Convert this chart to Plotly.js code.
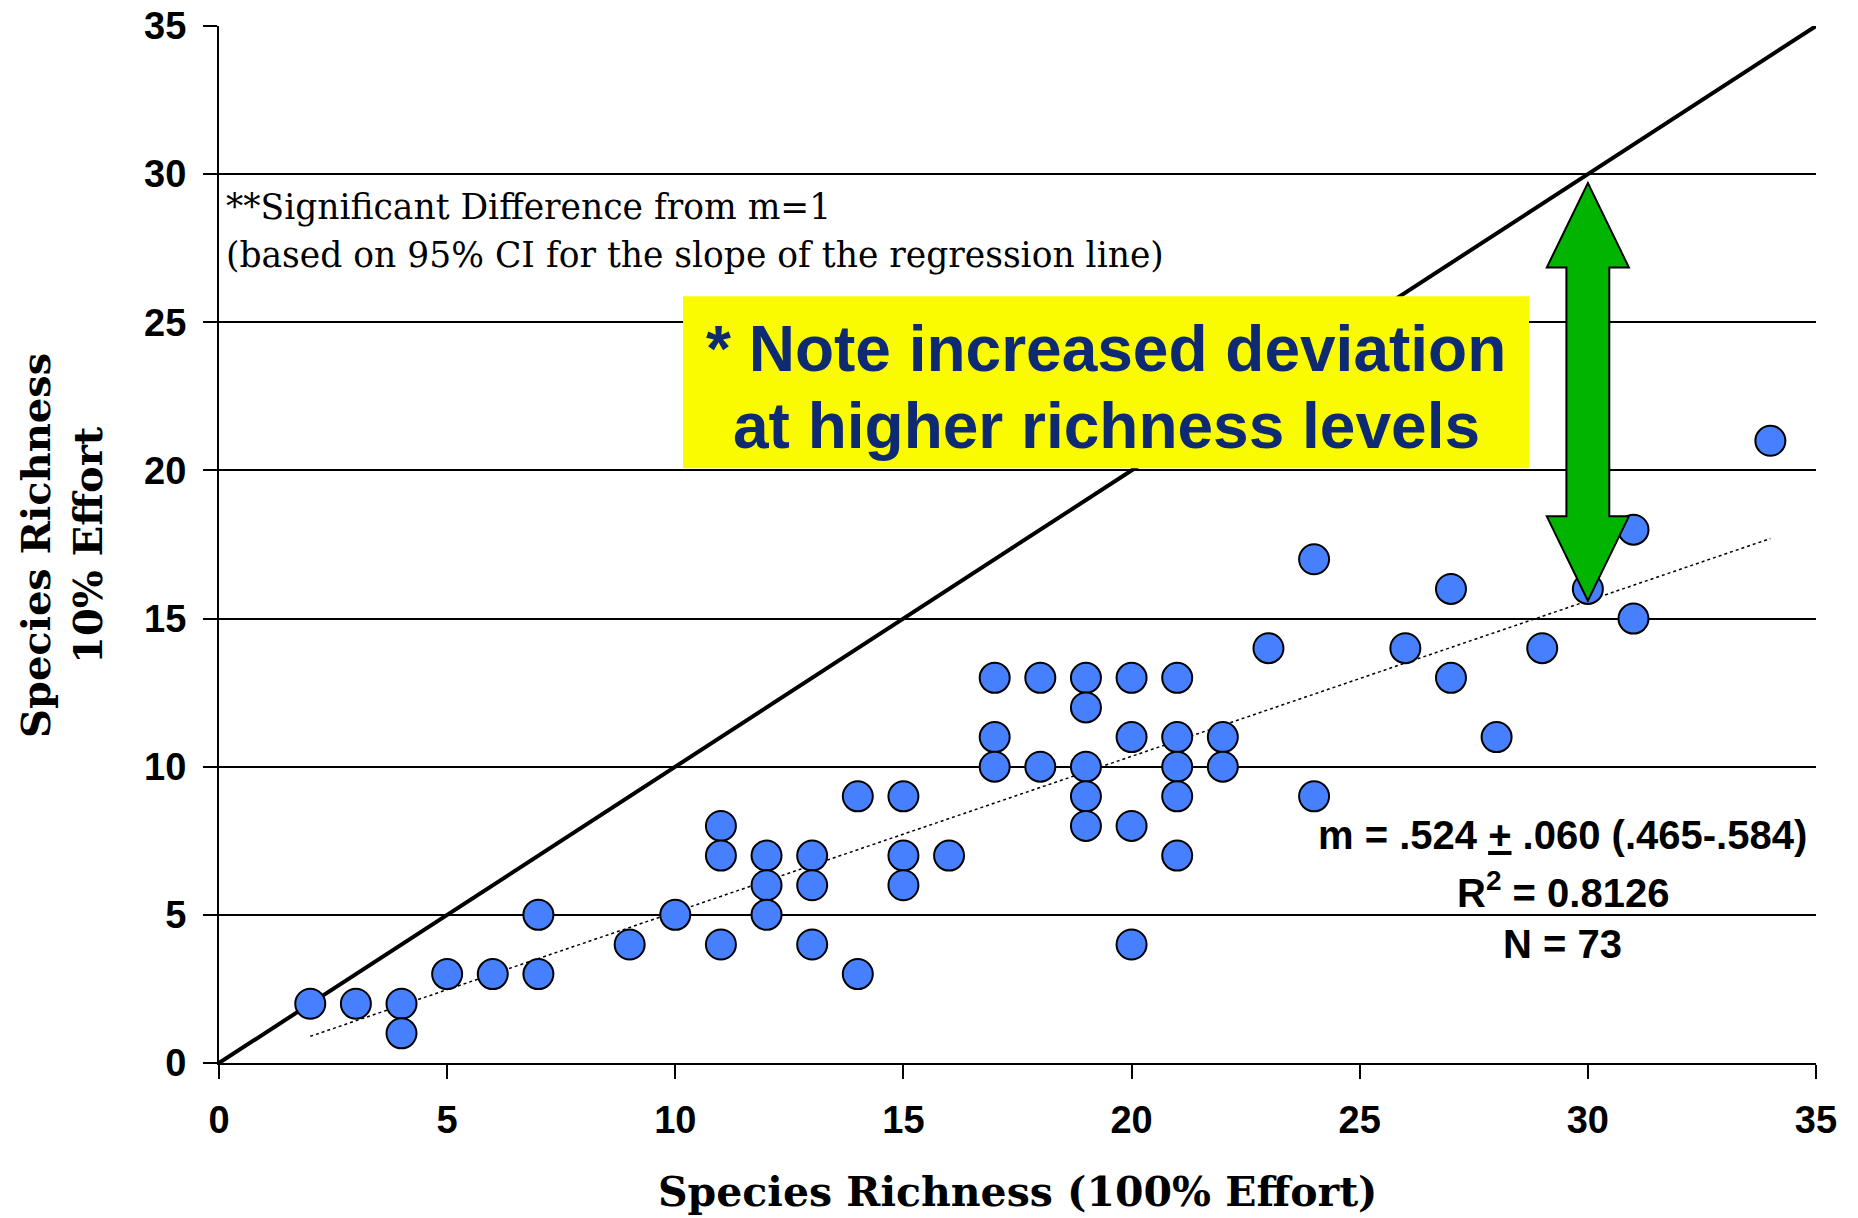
<!DOCTYPE html>
<html>
<head>
<meta charset="utf-8">
<script src="https://cdn.plot.ly/plotly-3.0.1.min.js"></script>
<style>
  html, body { margin: 0; padding: 0; background: #ffffff; }
  #chart { width: 1858px; height: 1218px; }
</style>
</head>
<body>
<div id="chart"></div>
<script>
// Species richness found with 100% sampling effort vs. 10% effort, one point per site
const richnessFull = [2, 3, 4, 4, 5, 6, 7, 7, 9, 10,
  11, 11, 11, 12, 12, 12, 13, 13, 13, 14,
  14, 15, 15, 15, 16, 17, 17, 17, 18, 18,
  19, 19, 19, 19, 19, 20, 20, 20, 20, 21,
  21, 21, 21, 21, 22, 22, 23, 24, 24, 26,
  27, 27, 28, 29, 30, 31, 31, 34];
const richnessTenth = [2, 2, 2, 1, 3, 3, 5, 3, 4, 5,
  8, 7, 4, 7, 6, 5, 7, 6, 4, 9,
  3, 9, 7, 6, 7, 13, 11, 10, 13, 10,
  13, 12, 10, 9, 8, 13, 11, 8, 4, 13,
  11, 10, 9, 7, 11, 10, 14, 17, 9, 14,
  16, 13, 11, 14, 16, 18, 15, 21];

// Fitted regression line end points and the 1:1 reference line
const fitX = [2, 34];
const fitY = [0.9, 17.7];
const identityLine = [0, 35];

// Regression statistics
const slopeText = 'm = .524 <u>+</u> .060 (.465-.584)';
const r2Text = 'R<sup>2</sup> = 0.8126';
const nText = 'N = 73';

const axisTicks = [0, 5, 10, 15, 20, 25, 30, 35];

// Double arrow showing the gap between the 1:1 line and the fit at x = 30
const arrow = { x: 30, bottom: 15.6, top: 29.7, headLen: 2.85, headHalf: 0.9, shaftHalf: 0.47 };
// Highlight box behind the note
const noteBox = { x0: 10.17, x1: 28.71, y0: 20.07, y1: 25.88 };

function arrowPath(a) {
  const p = [
    [a.x, a.top],
    [a.x + a.headHalf, a.top - a.headLen],
    [a.x + a.shaftHalf, a.top - a.headLen],
    [a.x + a.shaftHalf, a.bottom + a.headLen],
    [a.x + a.headHalf, a.bottom + a.headLen],
    [a.x, a.bottom],
    [a.x - a.headHalf, a.bottom + a.headLen],
    [a.x - a.shaftHalf, a.bottom + a.headLen],
    [a.x - a.shaftHalf, a.top - a.headLen],
    [a.x - a.headHalf, a.top - a.headLen]
  ];
  return 'M' + p.map(q => q[0] + ',' + q[1]).join(' L') + ' Z';
}

const sans = 'Liberation Sans, Arial, sans-serif';
const serif = 'DejaVu Serif, Georgia, serif';

const traces = [
  {
    x: identityLine, y: identityLine,
    type: 'scatter', mode: 'lines',
    line: { color: '#000000', width: 4 },
    hoverinfo: 'skip', showlegend: false
  },
  {
    x: fitX, y: fitY,
    type: 'scatter', mode: 'lines',
    line: { color: '#000000', width: 1.5, dash: 'dot' },
    hoverinfo: 'skip', showlegend: false
  },
  {
    x: richnessFull, y: richnessTenth,
    type: 'scatter', mode: 'markers',
    marker: { size: 30, color: '#4680ff', line: { color: '#000000', width: 2 } },
    cliponaxis: false,
    showlegend: false
  }
];

const axisCommon = {
  range: [0, 35],
  tickmode: 'array',
  tickvals: axisTicks,
  ticktext: axisTicks.map(String),
  showline: true, linecolor: '#000000', linewidth: 2,
  ticks: 'outside', ticklen: 14, tickwidth: 2, tickcolor: '#000000',
  tickfont: { family: sans, size: 38, color: '#000000', weight: 'bold' },
  zeroline: false,
  fixedrange: true
};

const layout = {
  width: 1858, height: 1218,
  margin: { l: 219, r: 42, t: 26, b: 155, pad: 0 },
  paper_bgcolor: '#ffffff', plot_bgcolor: '#ffffff',
  showlegend: false,
  xaxis: Object.assign({}, axisCommon, { showgrid: false, ticklabelstandoff: 8 }),
  yaxis: Object.assign({}, axisCommon, {
    showgrid: true, gridcolor: '#000000', gridwidth: 2, ticklabelstandoff: 9
  }),
  shapes: [
    {
      type: 'rect', xref: 'x', yref: 'y', layer: 'above',
      x0: noteBox.x0, x1: noteBox.x1, y0: noteBox.y0, y1: noteBox.y1,
      fillcolor: '#fafa00', line: { width: 0 }
    },
    {
      type: 'path', xref: 'x', yref: 'y', layer: 'above',
      path: arrowPath(arrow),
      fillcolor: '#00b400', line: { color: '#000000', width: 2 }
    }
  ],
  annotations: [
    {
      xref: 'paper', yref: 'paper', x: 0.5, y: 0, yanchor: 'middle', yshift: -129,
      text: 'Species Richness (100% Effort)', showarrow: false,
      font: { family: serif, size: 41, color: '#000000', weight: 'bold' }
    },
    {
      xref: 'paper', yref: 'paper', x: 0, xanchor: 'center', xshift: -157, y: 0.4986,
      textangle: -90,
      text: 'Species Richness<br>10% Effort', showarrow: false,
      font: { family: serif, size: 40, color: '#000000', weight: 'bold' }
    },
    {
      xref: 'x', yref: 'y', x: 0.1, y: 28.88, xanchor: 'left', yanchor: 'middle',
      text: '**Significant Difference from m=1', showarrow: false, align: 'left',
      font: { family: serif, size: 34.5, color: '#000000' }
    },
    {
      xref: 'x', yref: 'y', x: 0.1, y: 27.26, xanchor: 'left', yanchor: 'middle',
      text: '(based on 95% CI for the slope of the regression line)', showarrow: false, align: 'left',
      font: { family: serif, size: 34.5, color: '#000000' }
    },
    {
      xref: 'x', yref: 'y', x: 19.44, y: 24.1, xanchor: 'center', yanchor: 'middle',
      text: '* Note increased deviation', showarrow: false,
      font: { family: sans, size: 64, color: '#0d2a72', weight: 'bold' }
    },
    {
      xref: 'x', yref: 'y', x: 19.44, y: 21.5, xanchor: 'center', yanchor: 'middle',
      text: 'at higher richness levels', showarrow: false,
      font: { family: sans, size: 64, color: '#0d2a72', weight: 'bold' }
    },
    {
      xref: 'x', yref: 'y', x: 29.45, y: 7.7, xanchor: 'center', yanchor: 'middle',
      text: slopeText, showarrow: false,
      font: { family: sans, size: 40, color: '#000000', weight: 'bold' }
    },
    {
      xref: 'x', yref: 'y', x: 29.45, y: 5.85, xanchor: 'center', yanchor: 'middle',
      text: r2Text, showarrow: false,
      font: { family: sans, size: 40, color: '#000000', weight: 'bold' }
    },
    {
      xref: 'x', yref: 'y', x: 29.45, y: 4.0, xanchor: 'center', yanchor: 'middle',
      text: nText, showarrow: false,
      font: { family: sans, size: 40, color: '#000000', weight: 'bold' }
    }
  ]
};

Plotly.newPlot('chart', traces, layout, { displayModeBar: false, staticPlot: true });
</script>
</body>
</html>
